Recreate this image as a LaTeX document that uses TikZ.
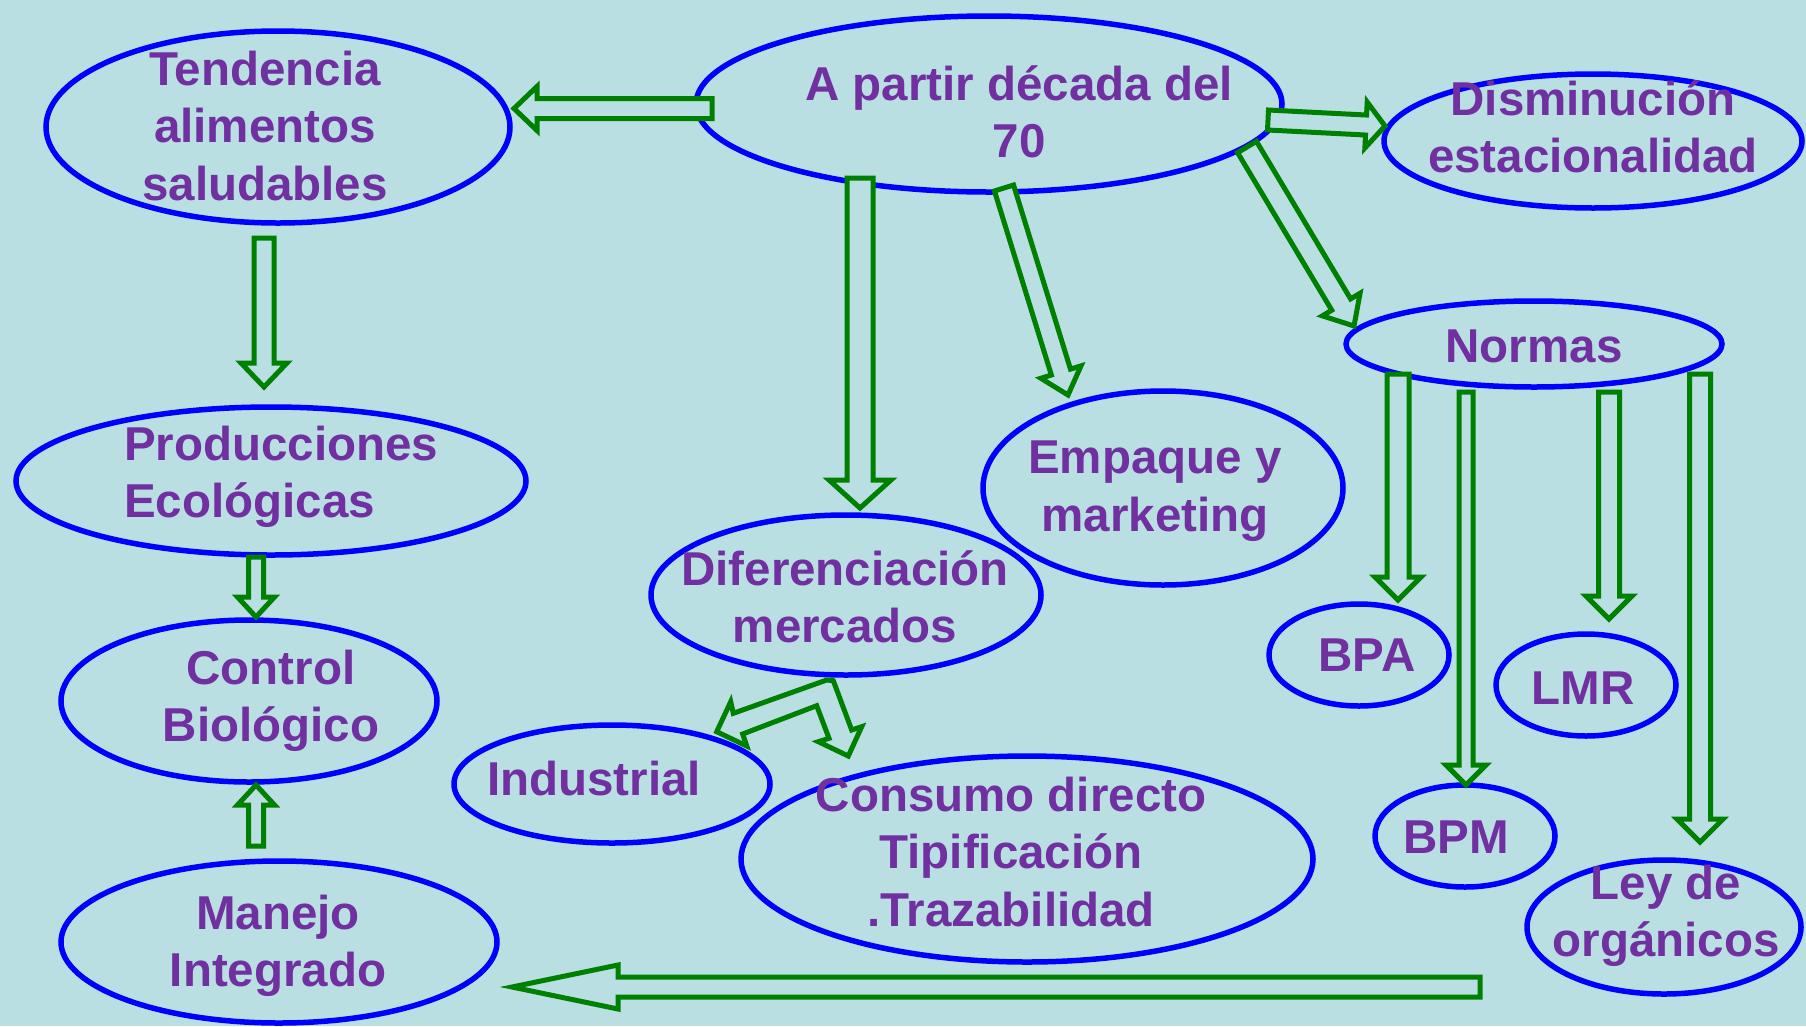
\documentclass[tikz,border=0pt]{standalone}
\usepackage{fontspec}
\setmainfont{Liberation Sans}
\usetikzlibrary{calc,shapes.geometric}

\definecolor{fondo}{HTML}{B9DFE2}
\definecolor{azul}{HTML}{0000FF}
\definecolor{verde}{HTML}{008000}
\definecolor{morado}{HTML}{7030A0}

\tikzset{
  elipse/.style={ellipse, draw=azul, line width=5.5pt, inner sep=0pt},
  texto/.style={text=morado, font=\bfseries\fontsize{47.5}{57.5}\selectfont, align=center, inner sep=0pt},
  bloque/.style={draw=verde, line width=5pt, fill=fondo, line join=miter}
}

% block arrow: tail, tip, shaft half width, head half width, head length
\newcommand{\flecha}[5]{%
  \coordinate (fb) at ($(#2)!#5pt!(#1)$);
  \draw[bloque] ($(#1)!#3pt!90:(#2)$) -- ($(fb)!#3pt!90:(#2)$) -- ($(fb)!#4pt!90:(#2)$) -- (#2)
    -- ($(fb)!#4pt!-90:(#2)$) -- ($(fb)!#3pt!-90:(#2)$) -- ($(#1)!#3pt!-90:(#2)$) -- cycle;
}

\begin{document}
\begin{tikzpicture}[x=1pt, y=-1pt]
  % fondo
  \fill[fondo] (0,0) rectangle (1806,1026);
  \useasboundingbox (0,0) rectangle (1806,1026);

  % elipses
  \node[elipse, minimum width=464, minimum height=192] (tend) at (278,127) {};
  \node[elipse, minimum width=586, minimum height=176] (partir) at (989,104) {};
  \node[elipse, minimum width=418, minimum height=134] (dism) at (1593,141) {};
  \node[elipse, minimum width=376, minimum height=86] (normas) at (1534,344) {};
  \node[elipse, minimum width=510, minimum height=148] (prod) at (271,481) {};
  \node[elipse, minimum width=360, minimum height=194] (emp) at (1163,488) {};
  \node[elipse, minimum width=390, minimum height=160] (dif) at (846,595) {};
  \node[elipse, minimum width=376, minimum height=162] (ctrl) at (249,701) {};
  \node[elipse, minimum width=180, minimum height=102] (bpa) at (1359,655) {};
  \node[elipse, minimum width=180, minimum height=102] (lmr) at (1586,685) {};
  \node[elipse, minimum width=316, minimum height=118] (ind) at (612,784) {};
  \node[elipse, minimum width=572, minimum height=206] (cons) at (1027,859) {};
  \node[elipse, minimum width=180, minimum height=102] (bpm) at (1465,836) {};
  \node[elipse, minimum width=274, minimum height=134] (ley) at (1664,927) {};
  \node[elipse, minimum width=436, minimum height=162] (manejo) at (279,942) {};

  % extremos de flechas
  \coordinate (a1) at (712,108.5);  \coordinate (a2) at (514,108.5);
  \coordinate (b1) at (264,238);    \coordinate (b2) at (264,387);
  \coordinate (c1) at (256,557);    \coordinate (c2) at (256,617);
  \coordinate (d1) at (256,846);    \coordinate (d2) at (256,785);
  \coordinate (e1) at (860,178);    \coordinate (e2) at (860,508);
  \coordinate (f1) at (1004,188);   \coordinate (f2) at (1068,395);
  \coordinate (g1) at (1247,147);   \coordinate (g2) at (1354,326);
  \coordinate (h1) at (1268,120);   \coordinate (h2) at (1385,126);
  \coordinate (i1) at (1398,374);   \coordinate (i2) at (1398,600);
  \coordinate (j1) at (1466,392);   \coordinate (j2) at (1466,785);
  \coordinate (k1) at (1609,392);   \coordinate (k2) at (1609,619);
  \coordinate (l1) at (1700,374);   \coordinate (l2) at (1700,842);
  \coordinate (n1) at (1480,987);   \coordinate (n2) at (512,987);

  % flechas
  \flecha{a1}{a2}{10}{22}{23}
  \flecha{b1}{b2}{10}{23}{24}
  \flecha{c1}{c2}{7.5}{18.5}{20}
  \flecha{d1}{d2}{7.5}{18.5}{20}
  \flecha{e1}{e2}{13}{31}{28}
  \flecha{f1}{f2}{10}{21}{24}
  \flecha{g1}{g2}{11}{22}{25}
  \flecha{h1}{h2}{10}{23}{19}
  \flecha{i1}{i2}{11}{23}{23}
  \flecha{j1}{j2}{7}{20}{20}
  \flecha{k1}{k2}{10.5}{23}{23}
  \flecha{l1}{l2}{10.5}{23}{23}
  \flecha{n1}{n2}{10}{22}{106}
  % flecha doble bajo Diferenciacion
  \draw[bloque] (826.7,680) -- (733.3,713.3) -- (730.7,701.7) -- (716.7,731.7) -- (746.7,746)
    -- (742.7,734) -- (816.7,705.7) -- (829,738.3) -- (818.3,741.7) -- (848.3,756)
    -- (861.7,726.7) -- (851.7,730) -- (833.3,680.7) -- cycle;

  % textos
  \node[texto] (tendtxt) at (265,126) {Tendencia\\alimentos\\saludables};
  \node[texto] (partirtxt) at (1019,112) {A partir década del\\70};
  \node[texto] (dismtxt) at (1593,127) {Disminución\\estacionalidad};
  \node[texto] (normastxt) at (1534,346) {Normas};
  \node[texto, align=left, anchor=west] (prodtxt) at (124,477) {Producciones\\Ecológicas};
  \node[texto] (emptxt) at (1155,491) {Empaque y\\marketing};
  \node[texto] (diftxt) at (845,597) {Diferenciación\\mercados};
  \node[texto] (ctrltxt) at (271,701) {Control\\Biológico};
  \node[texto] (indtxt) at (594,779) {Industrial};
  \node[texto] (constxt) at (1011,852) {Consumo directo\\Tipificación\\.Trazabilidad};
  \node[texto] (bpatxt) at (1367,655) {BPA};
  \node[texto] (lmrtxt) at (1583,688) {LMR};
  \node[texto] (bpmtxt) at (1456,837) {BPM};
  \node[texto] (leytxt) at (1666,916) {Ley de\\orgánicos};
  \node[texto] (manejotxt) at (278,946) {Manejo\\Integrado};
\end{tikzpicture}
\end{document}
